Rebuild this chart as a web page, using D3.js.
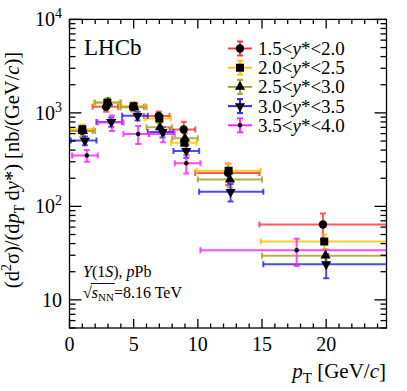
<!DOCTYPE html>
<html><head><meta charset="utf-8">
<script src="https://cdn.jsdelivr.net/npm/d3@7"></script>
<style>
html,body{margin:0;padding:0;background:#fff;}
svg{display:block;}
</style></head>
<body>
<svg id="c" width="407" height="391"></svg>
<script>
// ---- data ----
const seriesLabels = ["1.5", "2.0", "2.5", "3.0", "3.5"];
const seriesLabelsHi = ["2.0", "2.5", "3.0", "3.5", "4.0"];
const binsStd = [0, 2, 4, 6, 8, 10, 15, 30];
const binsLast = [0, 2, 4, 6, 8, 10, 30];

const xRed = [1.0, 2.85, 4.95, 6.95, 8.9, 12.35, 19.75];
const yRed = [645, 1160, 1160, 925, 665, 228, 64];
const eRed = [90, 130, 120, 110, 140, 60, 20];

const xYellow = [1.0, 2.95, 5.0, 7.0, 8.95, 12.4, 19.85];
const yYellow = [670, 1280, 1180, 870, 480, 240, 42];
const eYellow = [80, 140, 120, 100, 70, 45, 8];

const xOlive = [1.05, 3.0, 5.05, 7.05, 9.0, 12.5, 19.95];
const yOlive = [640, 1290, 1150, 700, 534, 194, 29.7];
const eOlive = [80, 140, 110, 90, 70, 35, 5];

const xBlue = [1.2, 3.25, 5.3, 7.25, 9.1, 12.55, 20.0];
const yBlue = [505, 800, 930, 625, 392, 143, 24];
const eBlue = [55, 90, 100, 80, 60, 30, 7];

const xMagenta = [1.35, 3.3, 5.35, 7.3, 9.1, 17.7];
const yMagenta = [350, 790, 595, 595, 290, 34];
const eMagenta = [50, 150, 130, 110, 65, 11];

const xTicks = [0, 5, 10, 15, 20];
const yTickExps = [1, 2, 3, 4];

// ---- style ----
const FONT = "Liberation Serif";
const colors = ["#ff3b3b", "#ffc400", "#a5a52e", "#2b2bff", "#ff2bff"];
const shifts = [-0.2, -0.1, 0, 0.1, 0.2];
const series = [
  {x: xRed, y: yRed, e: eRed, bins: binsStd, sym: d3.symbolCircle, size: 55, rot: 0},
  {x: xYellow, y: yYellow, e: eYellow, bins: binsStd, sym: d3.symbolSquare, size: 64, rot: 0},
  {x: xOlive, y: yOlive, e: eOlive, bins: binsStd, sym: d3.symbolTriangle, size: 45, rot: 0},
  {x: xBlue, y: yBlue, e: eBlue, bins: binsStd, sym: d3.symbolTriangle, size: 45, rot: 180},
  {x: xMagenta, y: yMagenta, e: eMagenta, bins: binsLast, sym: d3.symbolCircle, size: 16, rot: 0}
];

const L = 69.5, R = 386.5, T = 19.4, B = 328;
const svg = d3.select("#c");
const x = d3.scaleLinear().domain([0, 24.7]).range([L, R]);
const y = d3.scaleLog().domain([5, 1e4]).range([B, T]);
function txt(sel) { return sel.append("text").attr("font-family", FONT); }

svg.append("clipPath").attr("id", "clip").append("rect")
  .attr("x", L).attr("y", T).attr("width", R - L).attr("height", B - T);

// ---- data marks ----
const gData = svg.append("g").attr("clip-path", "url(#clip)");
const cap = 3;
series.forEach((s, si) => {
  const g = gData.append("g").attr("stroke", colors[si]).attr("stroke-width", 2).attr("stroke-opacity", 0.85);
  s.x.forEach((xv, i) => {
    const lo = s.bins[i] + shifts[si], hi = s.bins[i + 1] + shifts[si];
    const yv = y(s.y[i]);
    g.append("line").attr("x1", x(lo)).attr("x2", x(hi)).attr("y1", yv).attr("y2", yv);
    g.append("line").attr("x1", x(lo)).attr("x2", x(lo)).attr("y1", yv - cap).attr("y2", yv + cap);
    g.append("line").attr("x1", x(hi)).attr("x2", x(hi)).attr("y1", yv - cap).attr("y2", yv + cap);
    const y1 = y(s.y[i] + s.e[i]), y2 = y(s.y[i] - s.e[i]);
    g.append("line").attr("x1", x(xv)).attr("x2", x(xv)).attr("y1", y1).attr("y2", y2);
    g.append("line").attr("x1", x(xv) - cap).attr("x2", x(xv) + cap).attr("y1", y1).attr("y2", y1);
    g.append("line").attr("x1", x(xv) - cap).attr("x2", x(xv) + cap).attr("y1", y2).attr("y2", y2);
  });
});
series.forEach((s, si) => {
  const sym = d3.symbol().type(s.sym).size(s.size);
  s.x.forEach((xv, i) => {
    gData.append("path").attr("d", sym())
      .attr("transform", `translate(${x(xv)},${y(s.y[i])}) rotate(${s.rot})`)
      .attr("fill", "#000");
  });
});

// ---- axes / frame ----
const ax = svg.append("g").attr("stroke", "#000").attr("stroke-width", 1.3).attr("fill", "none");
ax.append("rect").attr("x", L).attr("y", T).attr("width", R - L).attr("height", B - T);
for (let v = 0; v <= 24; v++) {
  const major = v % 5 === 0;
  const len = major ? 9 : 4.5;
  ax.append("line").attr("x1", x(v)).attr("x2", x(v)).attr("y1", B).attr("y2", B - len);
  ax.append("line").attr("x1", x(v)).attr("x2", x(v)).attr("y1", T).attr("y2", T + len);
}
const yMinor = [];
for (let e = 0; e <= 3; e++) for (let m = 1; m <= 9; m++) {
  const v = m * Math.pow(10, e);
  if (v >= 5 && v <= 1e4) yMinor.push(v);
}
yMinor.push(1e4);
yMinor.forEach(v => {
  const major = Math.abs(Math.log10(v) - Math.round(Math.log10(v))) < 1e-9;
  const len = major ? 12 : 6;
  ax.append("line").attr("x1", L).attr("x2", L + len).attr("y1", y(v)).attr("y2", y(v));
  ax.append("line").attr("x1", R).attr("x2", R - len).attr("y1", y(v)).attr("y2", y(v));
});

// tick labels
const fs = 20;
xTicks.forEach(d => {
  txt(svg).attr("x", x(d)).attr("y", 351).attr("text-anchor", "middle")
    .attr("font-size", fs).text(d);
});
yTickExps.forEach(ex => {
  const t = txt(svg).attr("x", 62).attr("y", y(Math.pow(10, ex)) + 7)
    .attr("text-anchor", "end").attr("font-size", fs);
  if (ex === 1) { t.text("10"); }
  else {
    t.append("tspan").text("10");
    t.append("tspan").attr("font-size", 14).attr("dy", -8).text(ex);
  }
});

// x title
const xt = txt(svg).attr("x", 386).attr("y", 378).attr("text-anchor", "end").attr("font-size", 21);
xt.append("tspan").attr("font-style", "italic").text("p");
xt.append("tspan").attr("font-size", 15).attr("dy", 5).text("T");
xt.append("tspan").attr("dy", -5).text(" [GeV/");
xt.append("tspan").attr("font-style", "italic").text("c");
xt.append("tspan").text("]");

// y title
const yt = txt(svg).attr("transform", "translate(19,170) rotate(-90)")
  .attr("text-anchor", "middle").attr("font-size", 20.5);
yt.append("tspan").text("(d");
yt.append("tspan").attr("font-size", 14).attr("dy", -8).text("2");
yt.append("tspan").attr("dy", 8).text("σ)/(d");
yt.append("tspan").attr("font-style", "italic").text("p");
yt.append("tspan").attr("font-size", 14).attr("dy", 5).text("T");
yt.append("tspan").attr("dy", -5).text("\u2009d");
yt.append("tspan").attr("font-style", "italic").text("y");
yt.append("tspan").text("*) [nb/(GeV/");
yt.append("tspan").attr("font-style", "italic").text("c");
yt.append("tspan").text(")]");

// LHCb
txt(svg).attr("x", 84).attr("y", 55).attr("font-size", 23).text("LHCb");

// legend
const lg = svg.append("g");
series.forEach((s, si) => {
  const cy = 48.5 + si * 19.2;
  const g = lg.append("g").attr("stroke", colors[si]).attr("stroke-width", 2);
  g.append("line").attr("x1", 228).attr("x2", 252).attr("y1", cy).attr("y2", cy);
  g.append("line").attr("x1", 240).attr("x2", 240).attr("y1", cy - 7).attr("y2", cy + 7);
  g.append("line").attr("x1", 237).attr("x2", 243).attr("y1", cy - 7).attr("y2", cy - 7);
  g.append("line").attr("x1", 237).attr("x2", 243).attr("y1", cy + 7).attr("y2", cy + 7);
  lg.append("path").attr("d", d3.symbol().type(s.sym).size(s.size)())
    .attr("transform", `translate(240,${cy}) rotate(${s.rot})`).attr("fill", "#000");
  const t = txt(lg).attr("x", 258).attr("y", cy + 6.5).attr("font-size", 19);
  t.append("tspan").text(seriesLabels[si] + "<");
  t.append("tspan").attr("font-style", "italic").text("y");
  t.append("tspan").text("*<" + seriesLabelsHi[si]);
});

// annotation
const a1 = txt(svg).attr("x", 83).attr("y", 277).attr("font-size", 16);
a1.append("tspan").attr("font-style", "italic").text("Υ");
a1.append("tspan").text("(1");
a1.append("tspan").attr("font-style", "italic").text("S");
a1.append("tspan").text("), ");
a1.append("tspan").attr("font-style", "italic").text("p");
a1.append("tspan").text("Pb");

const a2 = txt(svg).attr("x", 83).attr("y", 298).attr("font-size", 16);
a2.append("tspan").text("\u221A");
a2.append("tspan").attr("font-style", "italic").text("s");
a2.append("tspan").attr("font-size", 11).attr("dy", 3).text("NN");
a2.append("tspan").attr("dy", -3).text("=8.16 TeV");
const n = a2.node();
const startBar = n.getStartPositionOfChar(1).x;
const endBar = n.getEndPositionOfChar(3).x;
svg.append("line").attr("x1", startBar - 1).attr("x2", endBar + 1)
  .attr("y1", 283.5).attr("y2", 283.5).attr("stroke", "#000").attr("stroke-width", 0.9);
</script>
</body></html>
